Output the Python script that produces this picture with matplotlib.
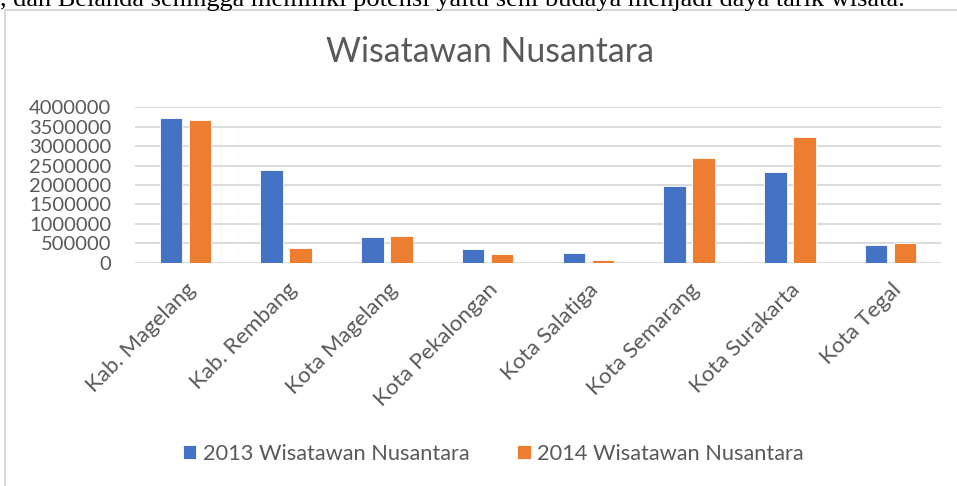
import matplotlib.pyplot as plt
import matplotlib.patches as mpatches
import numpy as np

# Data
categories = ['Kab. Magelang', 'Kab. Rembang', 'Kota Magelang', 'Kota Pekalongan',
              'Kota Salatiga', 'Kota Semarang', 'Kota Surakarta', 'Kota Tegal']
wisnus_2013 = [3730000, 2390000, 670000, 345000, 240000, 1980000, 2330000, 450000]
wisnus_2014 = [3670000, 386000, 690000, 224000, 70000, 2690000, 3230000, 500000]
series_names = ['2013 Wisatawan Nusantara', '2014 Wisatawan Nusantara']
yticks = [0, 500000, 1000000, 1500000, 2000000, 2500000, 3000000, 3500000, 4000000]

blue = '#4472C4'
orange = '#ED7D31'
grey_text = '#595959'
grid_col = '#D9D9D9'
font = 'Lato'

fig = plt.figure(figsize=(9.57, 4.86), dpi=100)

# document text cut at the top
fig.text(0.0, 1 - 6 / 486, ', dan Belanda sehingga memiliki potensi yaitu seni budaya menjadi daya tarik wisata.',
         family='Liberation Serif', fontsize=19, color='black', ha='left', va='baseline')

# chart frame
fig.patches.append(mpatches.Rectangle((5 / 957, -0.1), 1.2, 1 - 10 / 486 + 0.1,
                                      transform=fig.transFigure, fill=False,
                                      edgecolor=grid_col, linewidth=1.5))

ax = fig.add_axes([135 / 957, 1 - 262.7 / 486, (941 - 135) / 957, (262.7 - 107.3) / 486])

x = np.arange(len(categories))
w = 0.222
off = 0.144
ax.bar(x - off, wisnus_2013, w, color=blue, edgecolor='white', linewidth=0.6,
       label=series_names[0], zorder=3)
ax.bar(x + off, wisnus_2014, w, color=orange, edgecolor='white', linewidth=0.6,
       label=series_names[1], zorder=3)

ax.set_xlim(-0.5, len(categories) - 0.5)
ax.set_ylim(0, 4000000)
ax.set_yticks(yticks)
ax.set_yticklabels([str(v) for v in yticks], family=font, fontsize=14.5, color=grey_text)
ax.set_xticks(x)
ax.set_xticklabels(categories, rotation=45, ha='right', rotation_mode='anchor',
                   family=font, fontsize=16, color=grey_text)
ax.tick_params(axis='x', length=0, pad=12)
ax.tick_params(axis='y', length=0, pad=17)
ax.grid(axis='y', color=grid_col, linewidth=1.3, zorder=0)
for s in ax.spines.values():
    s.set_visible(False)

fig.text(489.5 / 957, 1 - 52 / 486, 'Wisatawan Nusantara', family=font, fontsize=24.3,
         color=grey_text, ha='center', va='center')

leg = fig.legend(loc='center', bbox_to_anchor=(493.5 / 957, 1 - 454 / 486), ncol=2,
                 frameon=False, prop={'family': font, 'size': 15.7},
                 handlelength=0.6, handleheight=0.6, handletextpad=0.3,
                 columnspacing=2.2, labelcolor=grey_text)

fig.savefig('out.png', dpi=100)
